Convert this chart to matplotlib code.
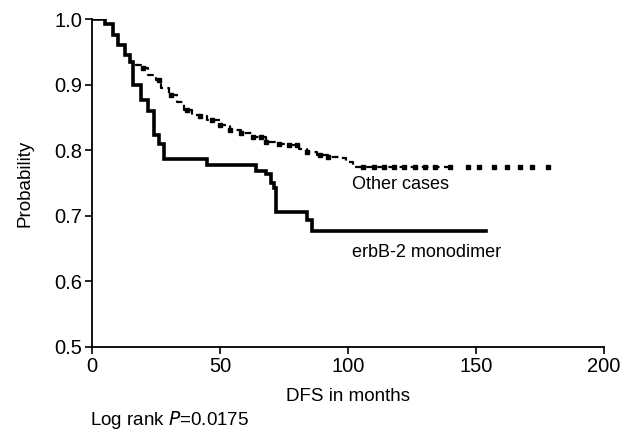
import matplotlib
matplotlib.use("Agg")
import matplotlib.pyplot as plt

plt.rcParams['font.family'] = ['Liberation Sans', 'DejaVu Sans']

# Other cases (Kaplan-Meier step curve)
other_t = [0, 5, 8, 10, 13, 15, 17, 19, 22, 25, 27, 30, 33, 36, 39, 42, 45,
           50, 54, 58, 63, 68, 73, 77, 81, 84, 88, 92, 97, 99, 102, 140]
other_s = [1.0, 0.992, 0.975, 0.96, 0.945, 0.935, 0.930, 0.925, 0.915,
           0.907, 0.895, 0.884, 0.873, 0.862, 0.853, 0.852, 0.846, 0.838, 0.830, 0.826,
           0.820, 0.812, 0.810, 0.808, 0.802, 0.797, 0.793, 0.789, 0.788, 0.782, 0.774, 0.774]
other_censor_t = [20, 26, 31, 37, 42, 47, 50, 54, 58, 63, 66, 68, 73, 77, 80, 84, 89, 92,
                  106, 110, 114, 118, 122, 126, 130, 134, 140, 147, 151, 157, 162, 167,
                  172, 178]

# erbB-2 monodimer
mono_t = [0, 5, 8, 10, 13, 15, 16, 19, 22, 24, 26, 28, 45, 64, 68, 70, 71, 72, 84, 86, 154]
mono_s = [1.0, 0.992, 0.975, 0.96, 0.945, 0.935, 0.90, 0.876, 0.86, 0.823, 0.81, 0.787,
          0.777, 0.768, 0.763, 0.75, 0.743, 0.706, 0.693, 0.676, 0.676]

x_ticks = [0, 50, 100, 150, 200]
y_ticks = [0.5, 0.6, 0.7, 0.8, 0.9, 1.0]


def surv_at(t, ts, ss):
    val = ss[0]
    for ti, si in zip(ts, ss):
        if ti <= t:
            val = si
    return val


fig = plt.figure(figsize=(6.44, 4.32), dpi=100)
ax = fig.add_axes([0.143, 0.197, 0.795, 0.759])

ax.plot(mono_t, mono_s, drawstyle='steps-post', color='black', lw=2.6, solid_joinstyle='miter')
ax.plot(other_t, other_s, drawstyle='steps-post', color='black', lw=1.6, linestyle=(0, (3, 2)))
cs = [surv_at(t, other_t, other_s) for t in other_censor_t]
ax.plot(other_censor_t, cs, linestyle='none', marker='s', markersize=3.5, color='black')

ax.set_xlim(0, 200)
ax.set_ylim(0.5, 1.0)
ax.set_xticks(x_ticks)
ax.set_yticks(y_ticks)
ax.set_yticklabels([f"{v:.1f}" for v in y_ticks])
ax.spines['top'].set_visible(False)
ax.spines['right'].set_visible(False)
ax.spines['left'].set_linewidth(1.3)
ax.spines['bottom'].set_linewidth(1.3)
ax.tick_params(axis='both', direction='out', length=5, width=1.2, labelsize=14.5, pad=2)

ax.set_xlabel('DFS in months', fontsize=13.5, labelpad=9)
ax.set_ylabel('Probability', fontsize=13.5, labelpad=15)

ax.text(101.5, 0.748, 'Other cases', fontsize=13, va='center', ha='left')
ax.text(101.5, 0.644, 'erbB-2 monodimer', fontsize=13, va='center', ha='left')

fig.text(90 / 644, 1 - 420 / 432, 'Log rank $\\it{P}$=0.0175', fontsize=13.5, va='center', ha='left')

fig.savefig('out.png', dpi=100)
